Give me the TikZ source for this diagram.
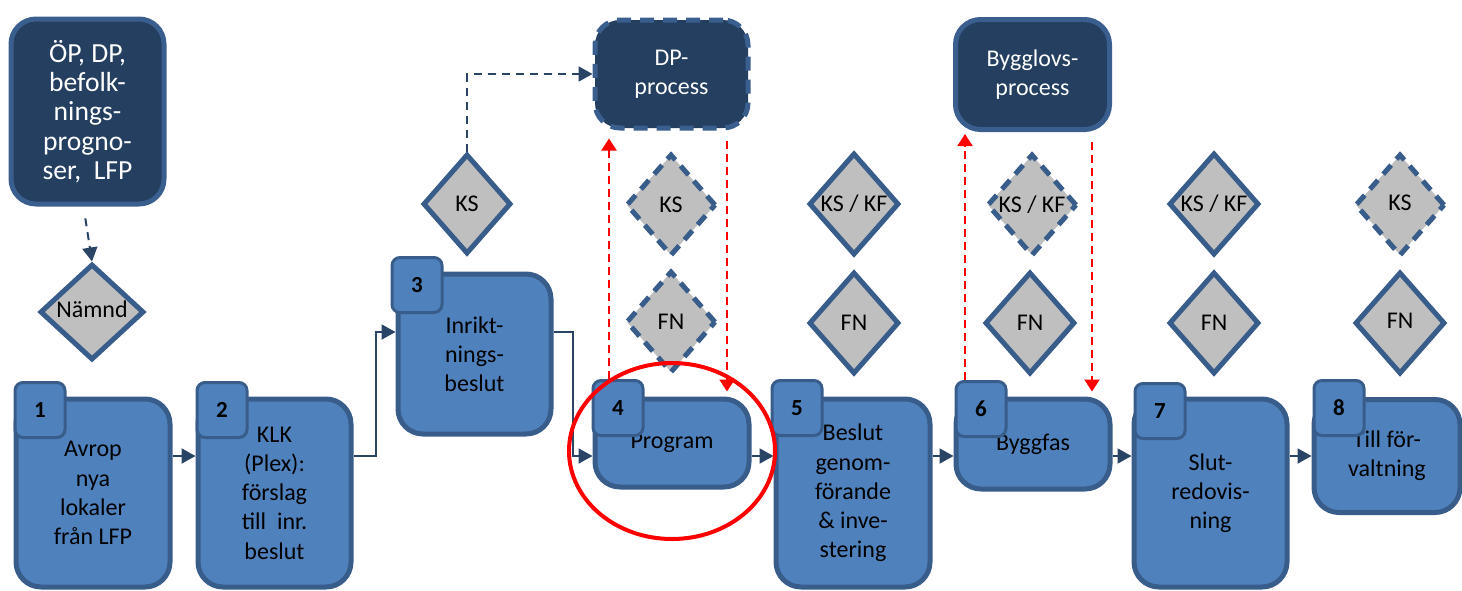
\documentclass[tikz,border=0pt]{standalone}
\usepackage{fontspec}
\setmainfont{Carlito}
\usetikzlibrary{arrows.meta,shapes.geometric}
\definecolor{boxblue}{HTML}{4F81BD}
\definecolor{bord}{HTML}{385D8A}
\definecolor{darkbord}{HTML}{3A5F8F}
\definecolor{darkfill}{HTML}{243F60}
\definecolor{gatefill}{HTML}{BFBFBF}
\definecolor{connc}{HTML}{2A4465}
\newcommand{\boxfs}{\fontsize{12pt}{14.6pt}\selectfont}
\newcommand{\bigfs}{\fontsize{13.8pt}{14.6pt}\selectfont}
\newcommand{\numfs}{\fontsize{11.5pt}{13pt}\selectfont}
\tikzset{
 mainbox/.style={draw=bord, fill=boxblue, line width=2.5pt, rounded corners=12.5pt, align=center, text=black, inner sep=0pt, font=\boxfs},
 tabbox/.style={draw=bord, fill=boxblue, line width=1.5pt, rounded corners=4pt, minimum width=25pt, minimum height=27.5pt, font=\numfs\bfseries, inner sep=0pt, text=black},
 darkbox/.style={draw=darkbord, fill=darkfill, line width=2.5pt, rounded corners=12.5pt, text=white, align=center, inner sep=0pt, font=\boxfs},
 gate/.style={diamond, draw=bord, fill=gatefill, line width=2.5pt, inner sep=0pt, minimum width=45pt, minimum height=51pt, font=\boxfs, text=black},
 dashgate/.style={gate, dash pattern=on 6pt off 4pt},
 conn/.style={draw=connc, line width=1pt, -{Triangle[length=7pt,width=7.5pt]}},
 dconn/.style={conn, dash pattern=on 4pt off 3pt},
 redconn/.style={draw=red, line width=1pt, dash pattern=on 4pt off 2.5pt, -{Triangle[length=6pt,width=7.5pt]}},
}
\begin{document}
\begin{tikzpicture}[x=0.5pt,y=-0.5pt]
\useasboundingbox (0,0) rectangle (1462,590);
% main boxes
\node[mainbox, minimum width=77pt, minimum height=94pt] (b1) at (93,493) {Avrop\\nya\\lokaler\\från LFP};
\node[mainbox, minimum width=76.5pt, minimum height=94pt] (b2) at (274.5,493) {KLK\\(Plex):\\förslag\\till\ \ inr.\\beslut};
\node[mainbox, minimum width=76.5pt, minimum height=80pt] (b3) at (474.5,354) {Inrikt-\\nings-\\beslut};
\node[mainbox, minimum width=77pt, minimum height=44pt] (b4) at (672,443) {Program};
\node[mainbox, minimum width=77pt, minimum height=94pt] (b5) at (853,493) {Beslut\\genom-\\förande\\\&\ inve-\\stering};
\node[mainbox, minimum width=77pt, minimum height=45pt] (b6) at (1033,444) {Byggfas};
\node[mainbox, minimum width=76.5pt, minimum height=94pt] (b7) at (1210.5,493) {Slut-\\redovis-\\ning};
\node[mainbox, minimum width=73pt, minimum height=56.5pt] (b8) at (1387,456) {Till för-\\valtning};
% tabs
\node[tabbox] (t1) at (40,410) {1};
\node[tabbox] (t2) at (222,410) {2};
\node[tabbox] (t3) at (417,285) {3};
\node[tabbox] (t4) at (618,408) {4};
\node[tabbox] (t5) at (797,408) {5};
\node[tabbox] (t6) at (981,409) {6};
\node[tabbox] (t7) at (1160,411) {7};
\node[tabbox] (t8) at (1339,408) {8};
% dark boxes
\node[darkbox, font=\bigfs, minimum width=76.5pt, minimum height=92.5pt] (op) at (87.5,111.5) {ÖP, DP,\\befolk-\\nings-\\progno-\\ser,\ \ LFP};
\node[darkbox, minimum width=76.5pt, minimum height=54pt, dash pattern=on 7pt off 4.5pt] (dp) at (671.5,74) {DP-\\process};
\node[darkbox, minimum width=77pt, minimum height=55pt] (bg) at (1032.5,74.5) {Bygglovs-\\process};
% gates
\node[gate, minimum width=52pt, minimum height=48pt] (namnd) at (92,312) {\raisebox{2.5pt}{Nämnd}};
\node[gate, minimum width=44pt, minimum height=50pt] (ks3) at (467,204) {KS};
\node[dashgate] (ks4) at (671,205) {KS};
\node[dashgate] (fn4) at (671,322) {FN};
\node[gate] (ks5) at (854,204) {KS / KF};
\node[gate] (fn5) at (854,323) {FN};
\node[dashgate] (ks6) at (1032,205) {KS / KF};
\node[gate] (fn6) at (1030,323) {FN};
\node[gate] (ks7) at (1214,204) {KS / KF};
\node[gate] (fn7) at (1214,323) {FN};
\node[dashgate] (ks8) at (1400,205) {\raisebox{2pt}{KS}};
\node[gate] (fn8) at (1400,323) {\raisebox{2pt}{FN}};
% connectors
\coordinate (ymain) at (0,456);
\coordinate (y3) at (0,332);
\coordinate (k23) at (376,456);
\coordinate (k34) at (573,332);
\draw[conn] (b1.east |- ymain) -- (b2.west |- ymain);
\draw[conn] (b2.east |- ymain) -- (k23) |- (b3.west |- y3);
\draw[conn] (b3.east |- y3) -- (k34) |- (b4.west |- ymain);
\draw[conn] (b4.east |- ymain) -- (b5.west |- ymain);
\draw[conn] (b5.east |- ymain) -- (b6.west |- ymain);
\draw[conn] (b6.east |- ymain) -- (b7.west |- ymain);
\draw[conn] (b7.east |- ymain) -- (b8.west |- ymain);
\draw[dconn] (ks3.north) |- (dp.west);
\draw[dconn, shorten <=6pt] ([xshift=-2pt]op.south) -- (namnd.north);
% red
\draw[red, line width=2pt] (672,451) ellipse [x radius=51.5pt, y radius=44pt];
\coordinate (r1) at (609,0);
\coordinate (r2) at (727,0);
\coordinate (r3) at (965,0);
\coordinate (r4) at (1092,0);
\draw[redconn, shorten >=4pt] (t4.north -| r1) -- (dp.south -| r1);
\draw[redconn, shorten <=5pt, shorten >=2.5pt] (dp.south -| r2) -- (b4.north -| r2);
\draw[redconn, shorten >=1pt] (t6.north -| r3) -- (bg.south -| r3);
\draw[redconn, shorten <=5pt, shorten >=2.5pt] (bg.south -| r4) -- (b6.north -| r4);
\end{tikzpicture}
\end{document}
